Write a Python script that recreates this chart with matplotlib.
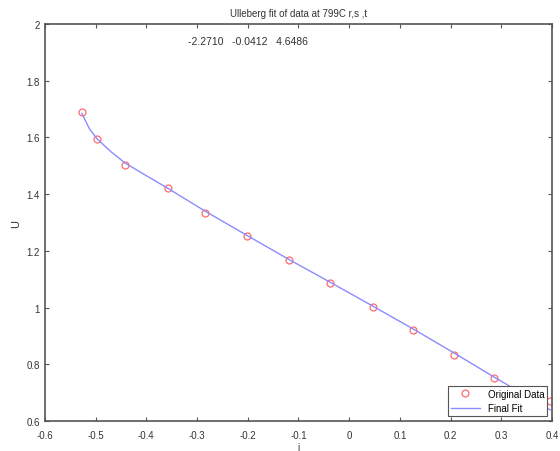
import matplotlib.pyplot as plt

# measured data (current i, voltage U)
i_data = [-0.527, -0.497, -0.442, -0.357, -0.284, -0.202, -0.119, -0.038,
          0.047, 0.126, 0.207, 0.286, 0.396]
u_data = [1.690, 1.594, 1.503, 1.422, 1.333, 1.252, 1.168, 1.087,
          1.002, 0.921, 0.833, 0.752, 0.670]

# fitted curve
i_fit = [-0.527, -0.512, -0.497, -0.470, -0.442, -0.400, -0.357, -0.284,
         -0.202, -0.119, -0.038, 0.047, 0.126, 0.207, 0.286, 0.396]
u_fit = [1.685, 1.630, 1.595, 1.550, 1.510, 1.465, 1.420, 1.340,
         1.255, 1.170, 1.090, 1.005, 0.925, 0.840, 0.755, 0.640]

params = [-2.2710, -0.0412, 4.6486]

x_ticks = [-0.6, -0.5, -0.4, -0.3, -0.2, -0.1, 0, 0.1, 0.2, 0.3, 0.4]
x_labels = ["-0.6", "-0.5", "-0.4", "-0.3", "-0.2", "-0.1", "0", "0.1", "0.2", "0.3", "0.4"]
y_ticks = [0.6, 0.8, 1.0, 1.2, 1.4, 1.6, 1.8, 2.0]
y_labels = ["0.6", "0.8", "1", "1.2", "1.4", "1.6", "1.8", "2"]

plt.rcParams["font.family"] = ["Liberation Sans", "DejaVu Sans"]
axis_col = "#555555"

fig = plt.figure(figsize=(5.6, 4.52), dpi=100)
ax = fig.add_axes([0.080, 0.066, 0.906, 0.879])

ax.plot(i_data, u_data, "o", markerfacecolor="none", markeredgecolor="#ff6b6b",
        markersize=5, markeredgewidth=0.9, label="Original Data")
ax.plot(i_fit, u_fit, "-", color="#8c8cff", linewidth=1.0, label="Final Fit")

ax.set_xlim(-0.6, 0.4)
ax.set_ylim(0.6, 2.0)
ax.set_xticks(x_ticks)
ax.set_xticklabels(x_labels)
ax.set_yticks(y_ticks)
ax.set_yticklabels(y_labels)

for s in ax.spines.values():
    s.set_color(axis_col)
    s.set_linewidth(1.2)
ax.tick_params(direction="in", top=True, right=True, length=3,
               color=axis_col, labelcolor="#333333", labelsize=7)
ax.tick_params(axis="x", pad=6)

ax.set_xlabel("i", fontsize=7, color="#333333", labelpad=2)
ax.set_ylabel("U", fontsize=8, color="#333333", labelpad=4)
ax.set_title("Ulleberg fit of data at 799C r,s ,t", fontsize=7,
             color="#333333", pad=6)

ax.text(-0.2, 1.94, "   ".join(f"{p:.4f}" for p in params),
        fontsize=7.5, color="#333333", ha="center", va="center")

leg = ax.legend(loc="lower right", fontsize=7, frameon=True, fancybox=False,
                borderpad=0.3, handlelength=3, borderaxespad=0.5)
leg.get_frame().set_edgecolor(axis_col)
leg.get_frame().set_linewidth(0.8)
leg.get_frame().set_alpha(1)

fig.savefig("out.png", dpi=100)
